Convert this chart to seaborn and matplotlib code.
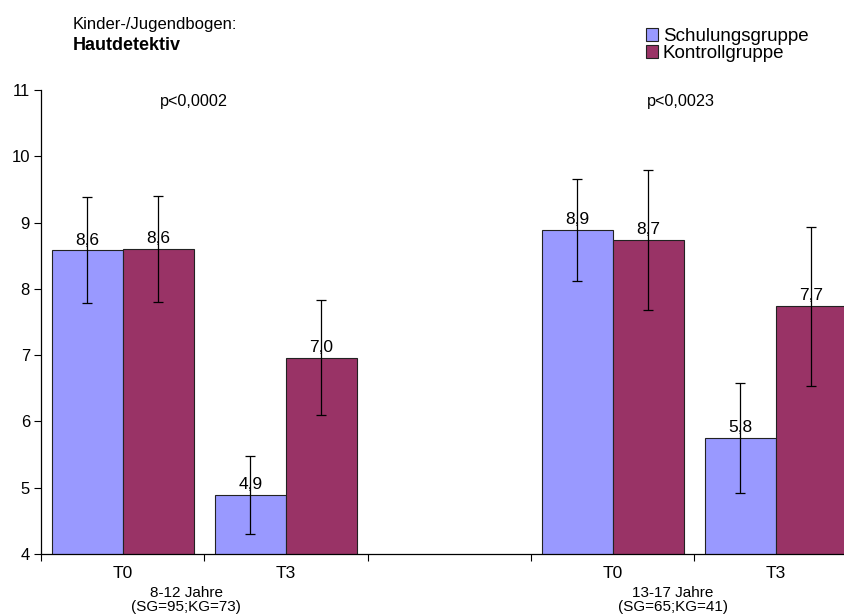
import matplotlib
matplotlib.use("Agg")
import matplotlib.pyplot as plt
import seaborn as sns
import numpy as np
import pandas as pd

# categories on the x axis ("gap" keeps the empty slot between the age groups)
kategorien = ["8-12 T0", "8-12 T3", "gap", "13-17 T0", "13-17 T3"]
tick_labels = ["T0", "T3", "", "T0", "T3"]
gruppen = ["Schulungsgruppe", "Kontrollgruppe"]

# means and standard deviations
sg_mean = [8.58, 4.89, 8.89, 5.75]
kg_mean = [8.60, 6.96, 8.74, 7.74]
sg_sd = [0.80, 0.59, 0.77, 0.83]
kg_sd = [0.80, 0.87, 1.06, 1.20]
sg_text = ["8,6", "4,9", "8,9", "5,8"]
kg_text = ["8,6", "7,0", "8,7", "7,7"]

altersgruppen = ["8-12 Jahre\n(SG=95;KG=73)", "13-17 Jahre\n(SG=65;KG=41)"]
p_werte = ["p<0,0002", "p<0,0023"]

farben = ["#9999FF", "#993366"]

belegt = [k for k in kategorien if k != "gap"]
df = pd.DataFrame({
    "kat": belegt * 2,
    "gruppe": [gruppen[0]] * 4 + [gruppen[1]] * 4,
    "wert": sg_mean + kg_mean,
    "sd": sg_sd + kg_sd,
    "txt": sg_text + kg_text,
})

plt.rcParams["font.family"] = ["Liberation Sans", "DejaVu Sans"]

fig = plt.figure(figsize=(8.45, 6.14), dpi=100)
ax = fig.add_axes([41 / 845, 60 / 614, 804 / 845, 464 / 614])

sns.barplot(data=df, x="kat", y="wert", hue="gruppe", order=kategorien,
            hue_order=gruppen, palette=farben, saturation=1, width=0.87, errorbar=None,
            edgecolor="#222222", linewidth=0.8, ax=ax)

# error bars + value labels, matched to each drawn bar
bar_conts = list(ax.containers)
for gi, cont in enumerate(bar_conts):
    sub = df[df["gruppe"] == gruppen[gi]].set_index("kat")
    for p in cont.patches:
        xc = p.get_x() + p.get_width() / 2
        kat = kategorien[int(round(xc))]
        if kat not in sub.index:
            continue
        h = sub.loc[kat, "wert"]
        ax.errorbar(xc, h, yerr=sub.loc[kat, "sd"], fmt="none", ecolor="black",
                    elinewidth=0.9, capsize=3.5, capthick=0.9, zorder=5)
        ax.annotate(sub.loc[kat, "txt"], (xc, h), xytext=(0, 2), textcoords="offset points",
                    ha="center", va="bottom", fontsize=12.5, zorder=4)

ax.set_ylim(4, 11)
ax.set_yticks(range(4, 12))
ax.set_xlim(-0.5, 4.423)
ax.set_xticks(range(len(kategorien)))
ax.set_xticklabels(tick_labels)
ax.set_xticks([-0.5, 0.5, 1.5, 2.5, 3.5], minor=True)
ax.tick_params(axis="x", which="major", length=0, pad=9, labelsize=12.5)
ax.tick_params(axis="x", which="minor", length=5, width=0.8, direction="out")
ax.tick_params(axis="y", length=5, width=0.8, direction="out", labelsize=12, pad=3)
ax.set_xlabel("")
ax.set_ylabel("")
for s in ["top", "right"]:
    ax.spines[s].set_visible(False)
for s in ["left", "bottom"]:
    ax.spines[s].set_linewidth(0.9)
    ax.spines[s].set_color("black")

# age group labels and p-values
for x, txt in zip([0.39, 3.37], altersgruppen):
    ax.text(x, -0.068, txt, transform=ax.get_xaxis_transform(), ha="center", va="top",
            fontsize=11, linespacing=1.05)
for x, txt in zip([0.437, 3.42], p_werte):
    ax.text(x, 10.83, txt, ha="center", va="center", fontsize=11.7)

fig.text(73 / 845, 1 - 25 / 614, "Kinder-/Jugendbogen:", ha="left", va="center", fontsize=12)
fig.text(73 / 845, 1 - 46 / 614, "Hautdetektiv", ha="left", va="center", fontsize=13,
         fontweight="bold")

h, l = ax.get_legend_handles_labels()
ax.legend(h, l, loc="upper left", bbox_to_anchor=(646 / 845, 1 - 28 / 614),
          bbox_transform=fig.transFigure, frameon=False, fontsize=13.5,
          handlelength=0.65, handleheight=0.65, handletextpad=0.25,
          labelspacing=0.0, borderpad=0, borderaxespad=0)

fig.savefig("out.png", dpi=100)
